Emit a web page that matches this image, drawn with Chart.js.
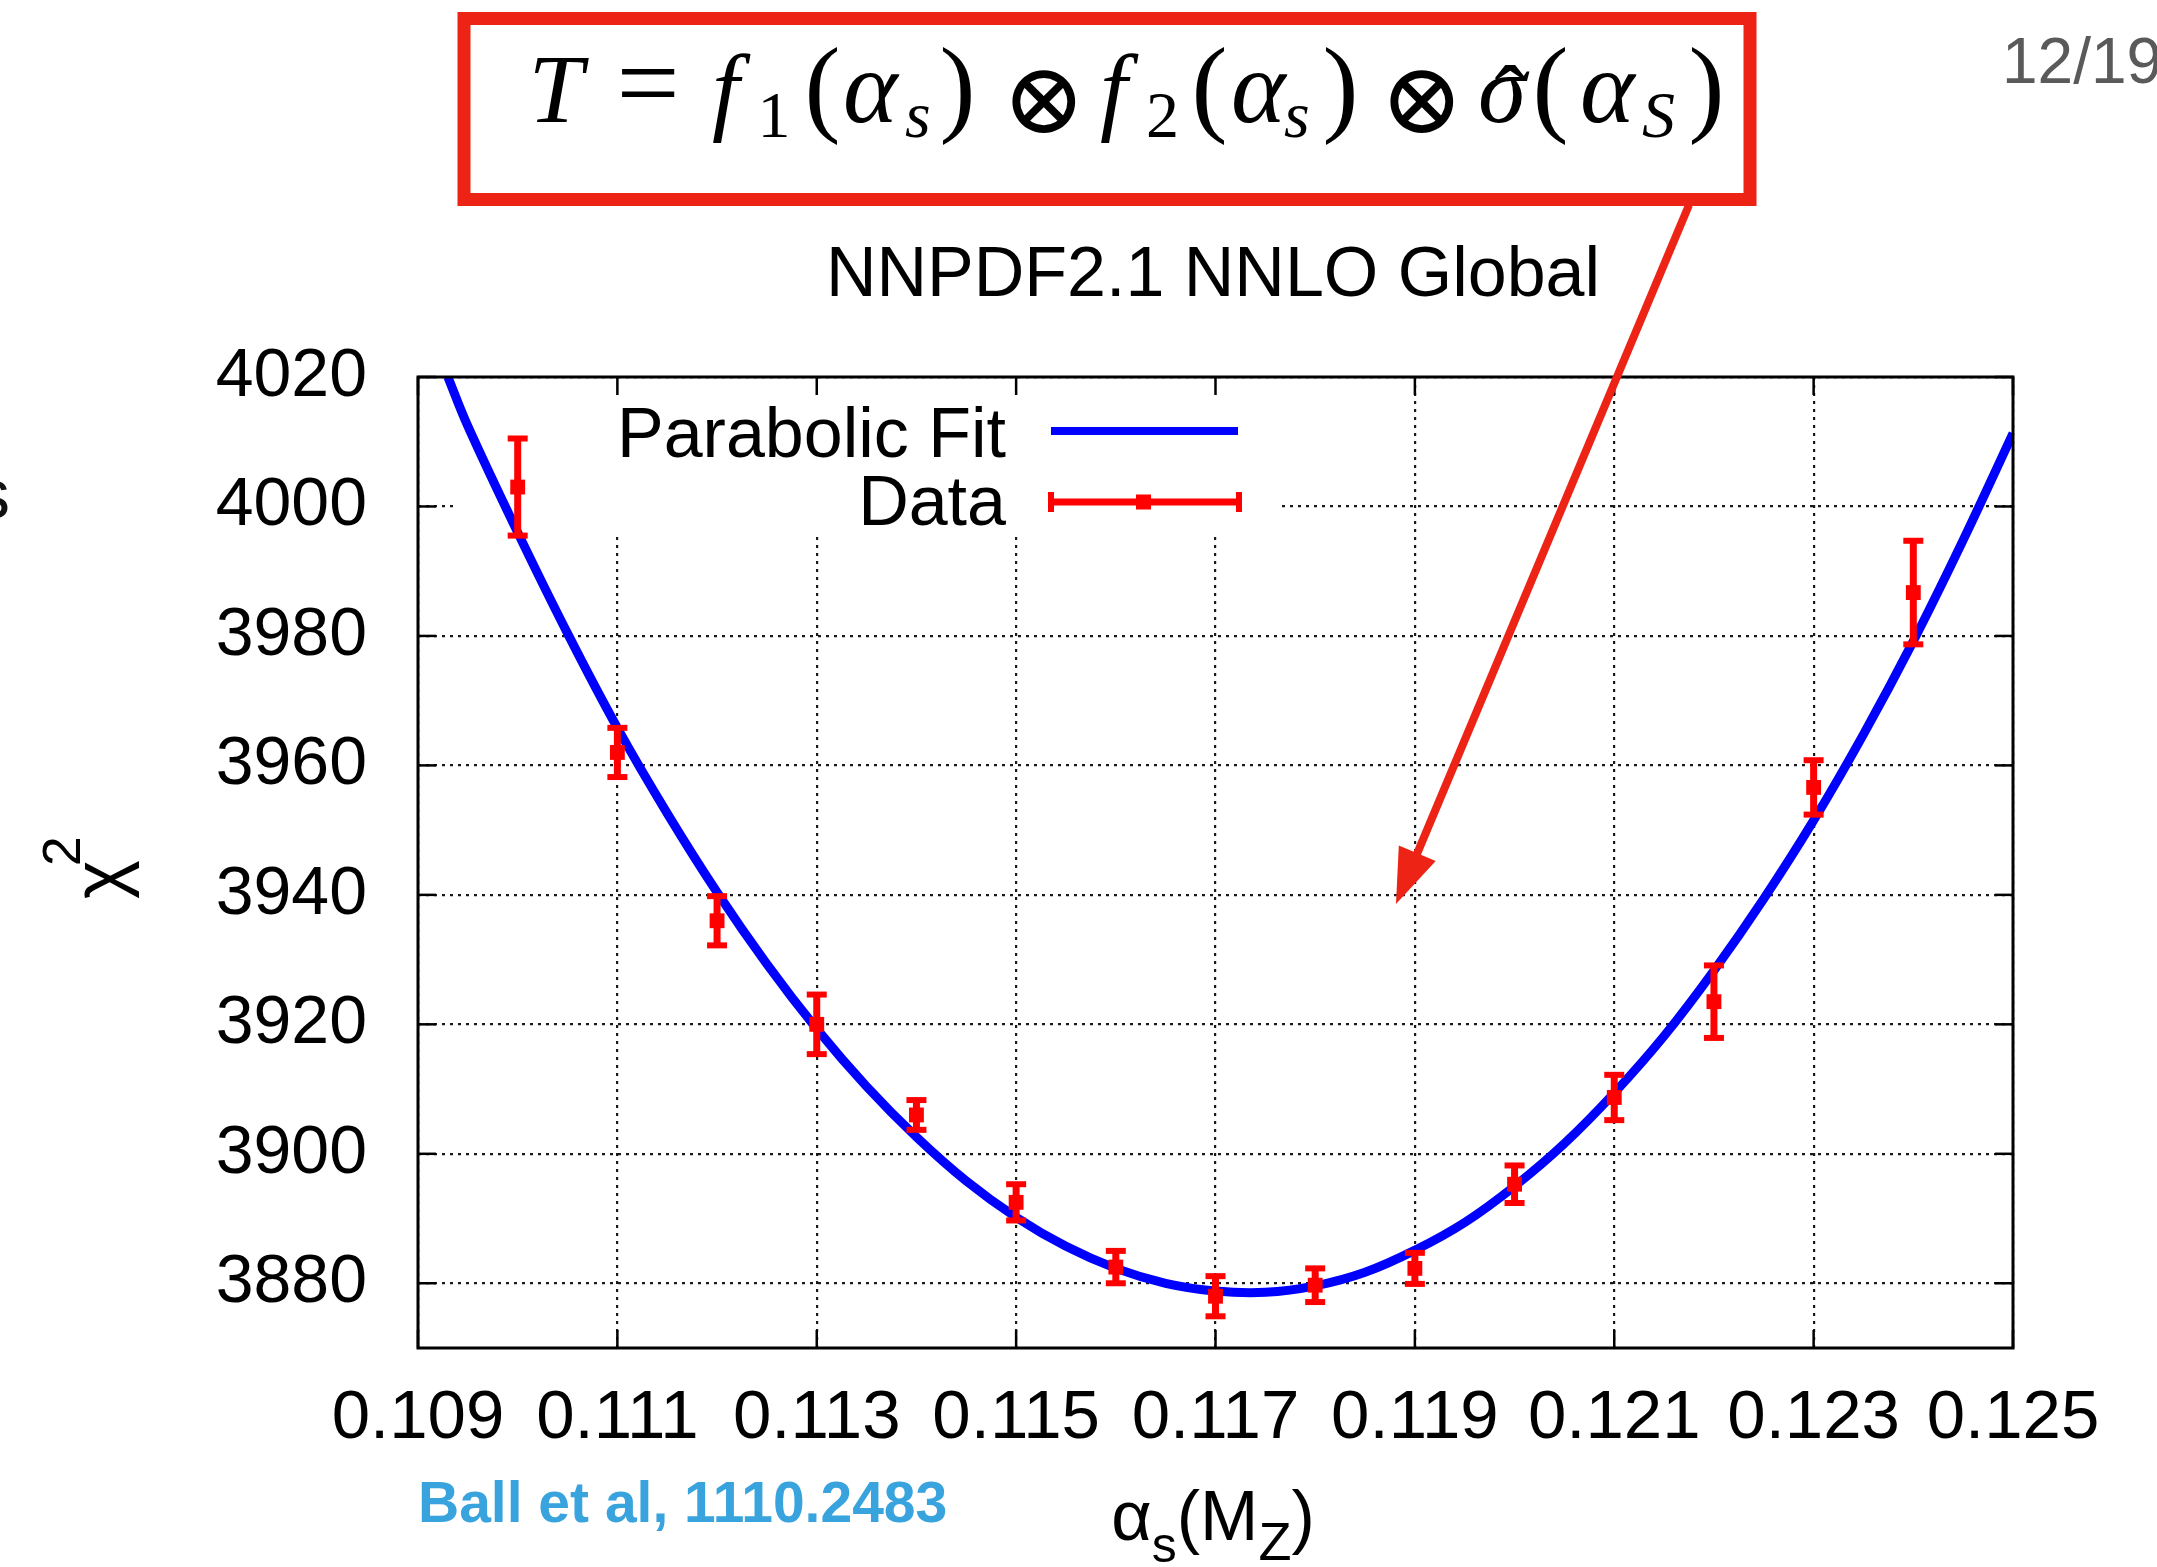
<!DOCTYPE html>
<html>
<head>
<meta charset="utf-8">
<script src="https://cdn.jsdelivr.net/npm/chart.js@4.4.1/dist/chart.umd.min.js"></script>
<style>
    html, body { margin: 0; padding: 0; background: #fff; }
    #wrap { width: 2157px; height: 1567px; position: relative; }
</style>
</head>
<body>
<div id="wrap"><canvas id="chi2Chart"></canvas></div>
<script>
// Tick labels
const xTicks = [0.109, 0.111, 0.113, 0.115, 0.117, 0.119, 0.121, 0.123, 0.125];
const yTicks = [3880, 3900, 3920, 3940, 3960, 3980, 4000, 4020];

// Data points (chi2 vs alpha_s) with errors
const dataAlpha = [0.110, 0.111, 0.112, 0.113, 0.114, 0.115, 0.116, 0.117, 0.118, 0.119, 0.120, 0.121, 0.122, 0.123, 0.124];
const dataChi2 = [4003, 3962, 3936, 3920, 3906, 3892.5, 3882.5, 3878, 3879.7, 3882.3, 3895.3, 3908.7, 3923.5, 3956.6, 3986.7];
const dataErr = [7.5, 3.8, 3.8, 4.6, 2.3, 2.8, 2.5, 3.1, 2.6, 2.4, 2.9, 3.5, 5.6, 4.2, 8];

// Parabolic fit
const fitAlpha = [0.1093, 0.1095, 0.1100, 0.1105, 0.1110, 0.1115, 0.1120, 0.1125, 0.1130, 0.1135, 0.1140,
                  0.1145, 0.1150, 0.1155, 0.1160, 0.1165, 0.1170, 0.1175, 0.1180, 0.1185, 0.1190, 0.1195,
                  0.1200, 0.1205, 0.1210, 0.1215, 0.1220, 0.1225, 0.1230, 0.1235, 0.1240, 0.1245, 0.1250];
const fitChi2 = [4020, 4012.4, 3996, 3980.4, 3965.8, 3952.6, 3940.4, 3929.3, 3919.3, 3910.4, 3902.6,
                 3895.8, 3890.2, 3885.7, 3882.3, 3880.0, 3878.8, 3878.6, 3879.6, 3881.7, 3885.1, 3889.4,
                 3895.0, 3901.6, 3909.4, 3918.2, 3928.3, 3939.4, 3951.5, 3964.8, 3979.2, 3994.8, 4011.3];

const SANS = '"Liberation Sans", Arial, sans-serif';
const SERIF = '"Liberation Serif", "Times New Roman", serif';
const RED = '#ec2315';

function line(ctx, x1, y1, x2, y2) {
    ctx.beginPath();
    ctx.moveTo(x1, y1);
    ctx.lineTo(x2, y2);
    ctx.stroke();
}

// draw text so that its ink is centred on cx
function inkCentered(ctx, s, cx, y) {
    const m = ctx.measureText(s);
    ctx.fillText(s, cx - (m.actualBoundingBoxRight - m.actualBoundingBoxLeft) / 2, y);
}

function drawFormula(ctx) {
    ctx.save();
    ctx.strokeStyle = RED;
    ctx.lineWidth = 13;
    ctx.strokeRect(464, 18.5, 1286, 181);

    ctx.fillStyle = '#000';
    ctx.textBaseline = 'alphabetic';
    ctx.textAlign = 'left';
    const B = 122, SB = 137;
    const it = 'italic 98px ' + SERIF, eq = '112px ' + SERIF;
    const al = 'italic 104px ' + SERIF;
    const par = '108px ' + SERIF;
    const itSub = 'italic 66px ' + SERIF, upSub = '66px ' + SERIF;
    const pieces = [
        ['T', 562, B, it], ['=', 648, B - 2, eq],
        ['f', 732, B, it], ['1', 775, SB, upSub], ['(', 823, B, par], ['\u03b1', 873, B, al], ['s', 917, SB, itSub], [')', 957, B, par],
        ['f', 1120, B, it], ['2', 1162, SB, upSub], ['(', 1210, B, par], ['\u03b1', 1261, B, al], ['s', 1296, SB, itSub], [')', 1340, B, par],
        ['\u03c3', 1505, B, it], ['(', 1551, B, par], ['\u03b1', 1610, B, al], ['S', 1658, SB, itSub], [')', 1706, B, par]
    ];
    pieces.forEach(p => { ctx.font = p[3]; inkCentered(ctx, p[0], p[1], p[2]); });

    // hat over sigma
    ctx.font = '94px ' + SERIF;
    inkCentered(ctx, '\u02c6', 1510, 130);

    // circled times
    [1044, 1422].forEach(cx => {
        ctx.font = '100px "DejaVu Serif"';
        const m = ctx.measureText('\u2297');
        const w = m.actualBoundingBoxLeft + m.actualBoundingBoxRight;
        const size = 100 * 64 / w;
        ctx.font = size + 'px "DejaVu Serif"';
        const m2 = ctx.measureText('\u2297');
        const yy = 101 + (m2.actualBoundingBoxAscent - m2.actualBoundingBoxDescent) / 2;
        inkCentered(ctx, '\u2297', cx, yy);
    });
    ctx.restore();
}

function drawArrow(ctx) {
    const x1 = 1689, y1 = 205, x2 = 1396, y2 = 904;
    const dx = x2 - x1, dy = y2 - y1, len = Math.hypot(dx, dy);
    const ux = dx / len, uy = dy / len;
    const hl = 55, hw = 20;
    const bx = x2 - ux * hl, by = y2 - uy * hl;
    ctx.save();
    ctx.strokeStyle = RED;
    ctx.fillStyle = RED;
    ctx.lineWidth = 8;
    line(ctx, x1, y1, bx + ux * 5, by + uy * 5);
    ctx.beginPath();
    ctx.moveTo(x2, y2);
    ctx.lineTo(bx - uy * hw, by + ux * hw);
    ctx.lineTo(bx + uy * hw, by - ux * hw);
    ctx.closePath();
    ctx.fill();
    ctx.restore();
}

const decorations = {
    id: 'decorations',
    beforeDatasetsDraw(chart) {
        // opaque key box over the grid
        const ctx = chart.ctx;
        ctx.save();
        ctx.fillStyle = '#fff';
        ctx.fillRect(454, chart.chartArea.top + 2, 1281 - 454, 535 - chart.chartArea.top - 2);
        ctx.restore();
    },
    afterDatasetsDraw(chart) {
        // error bars
        const ctx = chart.ctx, xs = chart.scales.x, ys = chart.scales.y;
        ctx.save();
        ctx.strokeStyle = '#ff0000';
        dataAlpha.forEach((a, i) => {
            const px = xs.getPixelForValue(a);
            const top = ys.getPixelForValue(dataChi2[i] + dataErr[i]);
            const bot = ys.getPixelForValue(dataChi2[i] - dataErr[i]);
            ctx.lineWidth = 7;
            line(ctx, px, top, px, bot);
            ctx.lineWidth = 6;
            line(ctx, px - 10, top, px + 10, top);
            line(ctx, px - 10, bot, px + 10, bot);
        });
        ctx.restore();
    },
    afterDraw(chart) {
        const ctx = chart.ctx, a = chart.chartArea, xs = chart.scales.x, ys = chart.scales.y;
        ctx.save();

        // frame and inward ticks on all sides
        ctx.strokeStyle = '#000';
        ctx.lineWidth = 3;
        ctx.strokeRect(a.left, a.top, a.right - a.left, a.bottom - a.top);
        ctx.lineWidth = 2.5;
        xTicks.forEach(v => {
            const px = xs.getPixelForValue(v);
            line(ctx, px, a.bottom, px, a.bottom - 18);
            line(ctx, px, a.top, px, a.top + 18);
        });
        yTicks.forEach(v => {
            const py = ys.getPixelForValue(v);
            line(ctx, a.left, py, a.left + 18, py);
            line(ctx, a.right, py, a.right - 18, py);
        });

        // key
        ctx.fillStyle = '#000';
        ctx.font = '70px ' + SANS;
        ctx.textAlign = 'right';
        ctx.textBaseline = 'alphabetic';
        ctx.fillText('Parabolic Fit', 1006, 457);
        ctx.fillText('Data', 1006, 525);
        ctx.strokeStyle = '#0000ff';
        ctx.lineWidth = 8;
        line(ctx, 1051, 431, 1238, 431);
        ctx.strokeStyle = '#ff0000';
        ctx.lineWidth = 7;
        line(ctx, 1049, 502, 1241, 502);
        ctx.lineWidth = 6;
        line(ctx, 1051, 492, 1051, 512);
        line(ctx, 1239, 492, 1239, 512);
        ctx.fillStyle = '#ff0000';
        ctx.fillRect(1136, 494.5, 15, 15);

        // title
        ctx.fillStyle = '#000';
        ctx.textAlign = 'center';
        ctx.font = '70px ' + SANS;
        ctx.fillText('NNPDF2.1 NNLO Global', 1213, 296);

        // y axis title chi^2 (rotated)
        ctx.save();
        ctx.translate(124, 899);
        ctx.rotate(-Math.PI / 2);
        ctx.textAlign = 'left';
        ctx.font = '74px ' + SANS;
        ctx.fillText('\u03c7', 0, 0);
        const cw = ctx.measureText('\u03c7').width;
        ctx.font = '54px ' + SANS;
        ctx.fillText('2', cw - 6, -44);
        ctx.restore();

        // x axis title alpha_s(M_Z)
        const parts = [['\u03b1', 70, 0], ['s', 50, 22], ['(M', 70, 0], ['Z', 54, 20], [')', 70, 0]];
        let total = 0;
        parts.forEach(p => { ctx.font = p[1] + 'px ' + SANS; total += ctx.measureText(p[0]).width; });
        let xx = 1213 - total / 2;
        ctx.textAlign = 'left';
        parts.forEach(p => {
            ctx.font = p[1] + 'px ' + SANS;
            ctx.fillText(p[0], xx, 1540 + p[2]);
            xx += ctx.measureText(p[0]).width;
        });

        // citation
        ctx.fillStyle = '#38a3dc';
        ctx.font = 'bold 57px ' + SANS;
        ctx.fillText('Ball et al, 1110.2483', 418, 1522);

        // page number
        ctx.fillStyle = '#5a5a5a';
        ctx.font = '64px ' + SANS;
        ctx.fillText('12/19', 2002, 83);

        // clipped slide text at left edge
        ctx.fillStyle = '#111';
        ctx.font = '70px ' + SANS;
        ctx.fillText('s', -25, 518);

        drawFormula(ctx);
        drawArrow(ctx);
        ctx.restore();
    }
};

const gridStyle = { color: 'rgba(0,0,0,0.9)', lineWidth: 2.2, drawTicks: false };

new Chart(document.getElementById('chi2Chart').getContext('2d'), {
    type: 'scatter',
    data: {
        datasets: [{
            label: 'Data',
            data: dataAlpha.map((a, i) => ({ x: a, y: dataChi2[i] })),
            backgroundColor: '#ff0000',
            borderColor: '#ff0000',
            pointStyle: 'rect',
            pointRadius: 10.5,
            borderWidth: 0
        }, {
            label: 'Parabolic Fit',
            data: fitAlpha.map((a, i) => ({ x: a, y: fitChi2[i] })),
            showLine: true,
            borderColor: '#0000ff',
            borderWidth: 9,
            pointRadius: 0,
            tension: 0.4,
            fill: false
        }]
    },
    options: {
        responsive: true,
        maintainAspectRatio: false,
        animation: false,
        layout: {
            padding: { top: 377, right: 144, bottom: 0, left: 0 }
        },
        plugins: {
            legend: { display: false },
            tooltip: { enabled: false }
        },
        scales: {
            x: {
                type: 'linear',
                min: 0.109,
                max: 0.125,
                grid: gridStyle,
                border: { display: false, dash: [3, 5] },
                afterBuildTicks: scale => { scale.ticks = xTicks.map(v => ({ value: v })); },
                afterFit: scale => { scale.height = 219; },
                ticks: {
                    color: '#000',
                    padding: 30,
                    maxRotation: 0,
                    autoSkip: false,
                    font: { family: 'Liberation Sans', size: 69 },
                    callback: v => v.toFixed(3)
                }
            },
            y: {
                type: 'linear',
                min: 3870,
                max: 4020,
                grid: gridStyle,
                border: { display: false, dash: [3, 5] },
                afterBuildTicks: scale => { scale.ticks = yTicks.map(v => ({ value: v })); },
                afterFit: scale => { scale.width = 418; },
                ticks: {
                    color: '#000',
                    padding: 51,
                    font: { family: 'Liberation Sans', size: 68 },
                    callback: v => String(v)
                }
            }
        }
    },
    plugins: [decorations]
});
</script>
</body>
</html>
